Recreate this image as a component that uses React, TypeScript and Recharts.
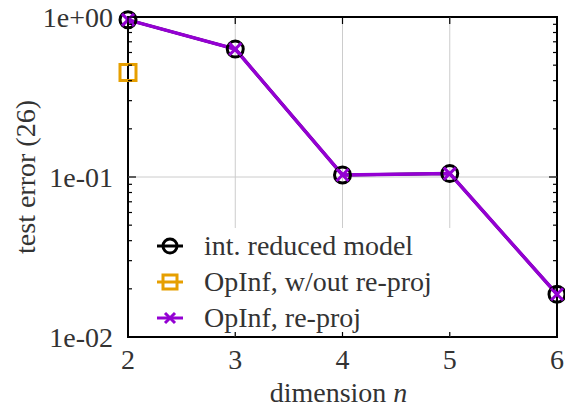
import { LineChart, Line, XAxis, YAxis, ReferenceLine, ReferenceArea } from 'recharts'

const W = 565
const H = 413
const PLOT_LEFT = 128
const PLOT_RIGHT = 557
const PLOT_TOP = 17
const FONT = "'Liberation Serif', 'DejaVu Serif', Roboto, sans-serif"
const TEXT = '#333333'

const dims = [2, 3, 4, 5, 6]
const intReduced = [0.96, 0.63, 0.103, 0.105, 0.0185]
const opInfNoReproj = [0.45, null, null, null, null]
const opInfReproj = [0.96, 0.63, 0.103, 0.105, 0.0185]

const yMajor = [0.01, 0.1, 1]
const yMajorLabels = ['1e-02', '1e-01', '1e+00']
const yMinor = [0.02, 0.03, 0.04, 0.05, 0.06, 0.07, 0.08, 0.09, 0.2, 0.3, 0.4, 0.5, 0.6, 0.7, 0.8, 0.9]
const xTicks = [2, 3, 4, 5, 6]

const data = dims.map((n, i) => ({
  n,
  intReduced: intReduced[i],
  noReproj: opInfNoReproj[i],
  reproj: opInfReproj[i],
}))

const BLACK = '#000000'
const ORANGE = '#e69f00'
const PURPLE = '#9400d3'

function YTick(props: any) {
  const { x, y, payload } = props
  const v = payload.value
  const idx = yMajor.indexOf(v)
  const ax = x + 15
  const len = idx >= 0 ? 8 : 4
  return (
    <g>
      <line x1={ax} x2={ax + len} y1={y} y2={y} stroke={BLACK} strokeWidth={1.2} />
      <line x1={PLOT_RIGHT} x2={PLOT_RIGHT - len} y1={y} y2={y} stroke={BLACK} strokeWidth={1.2} />
      {idx >= 0 && (
        <text x={x} y={y + 10} textAnchor="end" fontSize={28} fontFamily={FONT} fill={TEXT}>
          {yMajorLabels[idx]}
        </text>
      )}
    </g>
  )
}

function XTick(props: any) {
  const { x, y, payload } = props
  return (
    <g>
      <line x1={x} x2={x} y1={y} y2={y - 7} stroke={BLACK} strokeWidth={1.2} />
      <line x1={x} x2={x} y1={PLOT_TOP} y2={PLOT_TOP + 7} stroke={BLACK} strokeWidth={1.2} />
      <text x={x} y={y + 32} textAnchor="middle" fontSize={28} fontFamily={FONT} fill={TEXT}>
        {payload.value}
      </text>
    </g>
  )
}

function circleDot(p: any) {
  if (p.cy == null || p.value == null) return <g key={`c${p.index}`} />
  return <circle key={`c${p.index}`} cx={p.cx} cy={p.cy} r={8} fill="none" stroke={BLACK} strokeWidth={3} />
}

function squareDot(p: any) {
  if (p.cy == null || p.value == null) return <g key={`s${p.index}`} />
  return (
    <rect key={`s${p.index}`} x={p.cx - 8} y={p.cy - 8} width={16} height={16} fill="none" stroke={ORANGE} strokeWidth={3} />
  )
}

function crossDot(p: any) {
  if (p.cy == null || p.value == null) return <g key={`x${p.index}`} />
  const s = 6
  return (
    <g key={`x${p.index}`}>
      <line x1={p.cx - s} y1={p.cy - s} x2={p.cx + s} y2={p.cy + s} stroke={PURPLE} strokeWidth={3} />
      <line x1={p.cx - s} y1={p.cy + s} x2={p.cx + s} y2={p.cy - s} stroke={PURPLE} strokeWidth={3} />
    </g>
  )
}

const legendItems = [
  { name: 'int. reduced model', color: BLACK, marker: 'circle' },
  { name: 'OpInf, w/out re-proj', color: ORANGE, marker: 'square' },
  { name: 'OpInf, re-proj', color: PURPLE, marker: 'cross' },
]

function LegendIcon({ color, marker }: { color: string; marker: string }) {
  return (
    <svg width={28} height={20} style={{ display: 'block' }}>
      <line x1={1} x2={27} y1={10} y2={10} stroke={color} strokeWidth={3} />
      {marker === 'circle' && <circle cx={14} cy={10} r={7} fill="none" stroke={color} strokeWidth={3} />}
      {marker === 'square' && <rect x={7} y={3} width={14} height={14} fill="none" stroke={color} strokeWidth={3} />}
      {marker === 'cross' && (
        <g stroke={color} strokeWidth={3}>
          <line x1={9} y1={5} x2={19} y2={15} />
          <line x1={9} y1={15} x2={19} y2={5} />
        </g>
      )}
    </svg>
  )
}

export default function App() {
  return (
    <div style={{ position: 'absolute', left: 0, top: 0, width: W, height: H, background: '#fff', fontFamily: FONT }}>
      <LineChart width={W} height={H} data={data} margin={{ top: PLOT_TOP, right: W - PLOT_RIGHT, bottom: 0, left: 0 }}>
        <ReferenceLine y={0.1} stroke="#cccccc" strokeWidth={1} />
        <ReferenceLine x={3} stroke="#cccccc" strokeWidth={1} />
        <ReferenceLine x={4} stroke="#cccccc" strokeWidth={1} />
        <ReferenceLine x={5} stroke="#cccccc" strokeWidth={1} />
        <XAxis
          dataKey="n"
          type="number"
          domain={[2, 6]}
          ticks={xTicks}
          height={76}
          axisLine={false}
          tickLine={false}
          tickSize={0}
          tickMargin={0}
          tick={<XTick />}
          label={{
            content: (lp: any) => {
              const vb = lp.viewBox
              return (
                <text x={vb.x + vb.width / 2 - 4} y={vb.y + 65} textAnchor="middle" fontSize={28} fontFamily={FONT} fill={TEXT}>
                  dimension <tspan fontStyle="italic">n</tspan>
                </text>
              )
            },
          }}
        />
        <YAxis
          type="number"
          scale="log"
          domain={[0.01, 1]}
          ticks={[...yMajor, ...yMinor]}
          interval={0}
          width={PLOT_LEFT}
          axisLine={false}
          tickLine={false}
          tickSize={0}
          tickMargin={15}
          tick={<YTick />}
          label={{
            content: (lp: any) => {
              const vb = lp.viewBox
              const cy = vb.y + vb.height / 2
              return (
                <text x={25} y={cy} transform={`rotate(-90 25 ${cy})`} textAnchor="middle" dominantBaseline="central" fontSize={28} fontFamily={FONT} fill={TEXT}>
                  test error (26)
                </text>
              )
            },
          }}
        />
        <ReferenceArea x1={2} x2={6} y1={0.01} y2={1} fill="none" fillOpacity={0} stroke={BLACK} strokeWidth={2} />
        <Line dataKey="intReduced" stroke={BLACK} strokeWidth={3} dot={circleDot} activeDot={false} isAnimationActive={false} />
        <Line dataKey="noReproj" stroke={ORANGE} strokeWidth={3} dot={squareDot} activeDot={false} connectNulls={false} isAnimationActive={false} />
        <Line dataKey="reproj" stroke={PURPLE} strokeWidth={3.5} dot={crossDot} activeDot={false} isAnimationActive={false} />
      </LineChart>
      <div
        style={{
          position: 'absolute',
          left: 146,
          top: 228,
          width: 314,
          height: 104,
          background: '#fff',
          fontFamily: FONT,
          fontSize: 28,
          color: TEXT,
        }}
      >
        {legendItems.map((it) => (
          <div key={it.name} style={{ display: 'flex', alignItems: 'center', height: 36 }}>
            <div style={{ width: 48, paddingLeft: 10, flexShrink: 0 }}>
              <LegendIcon color={it.color} marker={it.marker} />
            </div>
            <span style={{ whiteSpace: 'nowrap', lineHeight: '36px' }}>{it.name}</span>
          </div>
        ))}
      </div>
    </div>
  )
}
